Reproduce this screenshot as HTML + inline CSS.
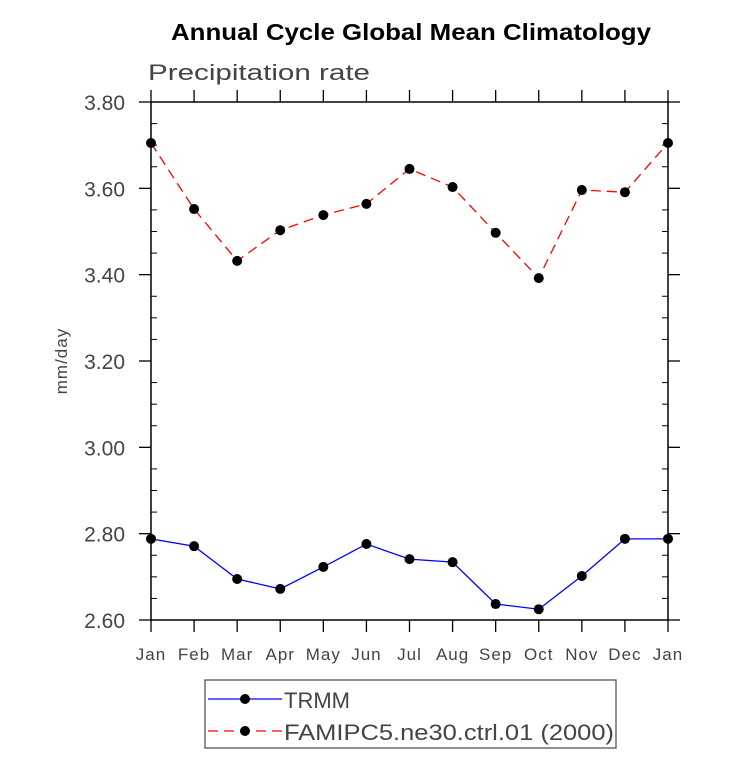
<!DOCTYPE html>
<html><head><meta charset="utf-8"><style>
body{margin:0;background:#fff;}
svg text{font-family:"Liberation Sans",sans-serif;}
</style></head><body>
<svg width="733" height="770" xmlns="http://www.w3.org/2000/svg">
<text x="411" y="40" text-anchor="middle" font-size="23" font-weight="bold" textLength="480" lengthAdjust="spacingAndGlyphs">Annual Cycle Global Mean Climatology</text>
<text x="148" y="80" font-size="22" fill="#444" textLength="222" lengthAdjust="spacingAndGlyphs">Precipitation rate</text>
<text transform="translate(67,361) rotate(-90)" text-anchor="middle" font-size="17" fill="#444" letter-spacing="1">mm/day</text>
<g id="axes"></g>
<g id="series"></g>
<g>
<rect x="205" y="680" width="411" height="68" fill="none" stroke="#555" stroke-width="1.3"/>
<line x1="208" y1="699" x2="282" y2="699" stroke="#0000ff" stroke-width="1.3"/>
<circle cx="245" cy="699" r="5"/>
<text x="284" y="708" font-size="22" fill="#444" textLength="66" lengthAdjust="spacingAndGlyphs">TRMM</text>
<line x1="208" y1="731" x2="282" y2="731" stroke="#ff0000" stroke-width="1.3" stroke-dasharray="10,6"/>
<circle cx="245" cy="731" r="5"/>
<text x="284" y="740" font-size="22" fill="#444" textLength="330" lengthAdjust="spacingAndGlyphs">FAMIPC5.ne30.ctrl.01 (2000)</text>
</g>
</svg>
<script>
const months=["Jan","Feb","Mar","Apr","May","Jun","Jul","Aug","Sep","Oct","Nov","Dec","Jan"];
const yTicks=[2.6,2.8,3.0,3.2,3.4,3.6,3.8];
const trmm=[2.788,2.771,2.695,2.672,2.723,2.776,2.741,2.734,2.637,2.625,2.702,2.788,2.788];
const model=[3.705,3.552,3.432,3.503,3.538,3.564,3.645,3.603,3.497,3.392,3.596,3.591,3.705];
const NS="http://www.w3.org/2000/svg";
const L=151,R=668,T=102,B=620,ymin=2.6,ymax=3.8;
const xs=i=>L+i*(R-L)/(months.length-1);
const ys=v=>B-(v-ymin)/(ymax-ymin)*(B-T);
function mk(tag,attrs,parent){const e=document.createElementNS(NS,tag);for(const k in attrs)e.setAttribute(k,attrs[k]);parent.appendChild(e);return e;}
const ax=document.getElementById('axes');
const fr=mk('rect',{x:L,y:T,width:R-L,height:B-T,fill:'none',stroke:'#000','stroke-width':1.5},ax);


months.forEach((m,i)=>{const x=xs(i);
mk('line',{x1:x,y1:B,x2:x,y2:B+12,stroke:'#000','stroke-width':1.3},ax);
mk('line',{x1:x,y1:T,x2:x,y2:T-12,stroke:'#000','stroke-width':1.3},ax);
const t=mk('text',{x:x,y:B+40,'text-anchor':'middle','font-size':17,fill:'#444','letter-spacing':1},ax);t.textContent=m;


});
for(let v=ymin;v<=ymax+1e-9;v+=0.05){const y=ys(v);
const major=Math.abs(Math.round(v*5)-v*5)<1e-6;
if(major){mk('line',{x1:L-12,y1:y,x2:L,y2:y,stroke:'#000','stroke-width':1.3},ax);
mk('line',{x1:R,y1:y,x2:R+12,y2:y,stroke:'#000','stroke-width':1.3},ax);}
else{mk('line',{x1:L,y1:y,x2:L+6,y2:y,stroke:'#000','stroke-width':1},ax);
mk('line',{x1:R-6,y1:y,x2:R,y2:y,stroke:'#000','stroke-width':1},ax);}}
yTicks.forEach(v=>{const t=mk('text',{x:125,y:ys(v)+8,'text-anchor':'end','font-size':21,fill:'#444'},ax);t.textContent=v.toFixed(2);


});
const sg=document.getElementById('series');
function series(data,color,dash,name){
const p=mk('polyline',{points:data.map((v,i)=>xs(i)+','+ys(v)).join(' '),fill:'none',stroke:color,'stroke-width':1.3,'stroke-dasharray':dash},sg);


data.forEach((v,i)=>{const c=mk('circle',{cx:xs(i),cy:ys(v),r:5,fill:'#000'},sg);

});
}
series(model,'#ff0000','10,6','model');
series(trmm,'#0000ff','none','trmm');
</script>
</body></html>
